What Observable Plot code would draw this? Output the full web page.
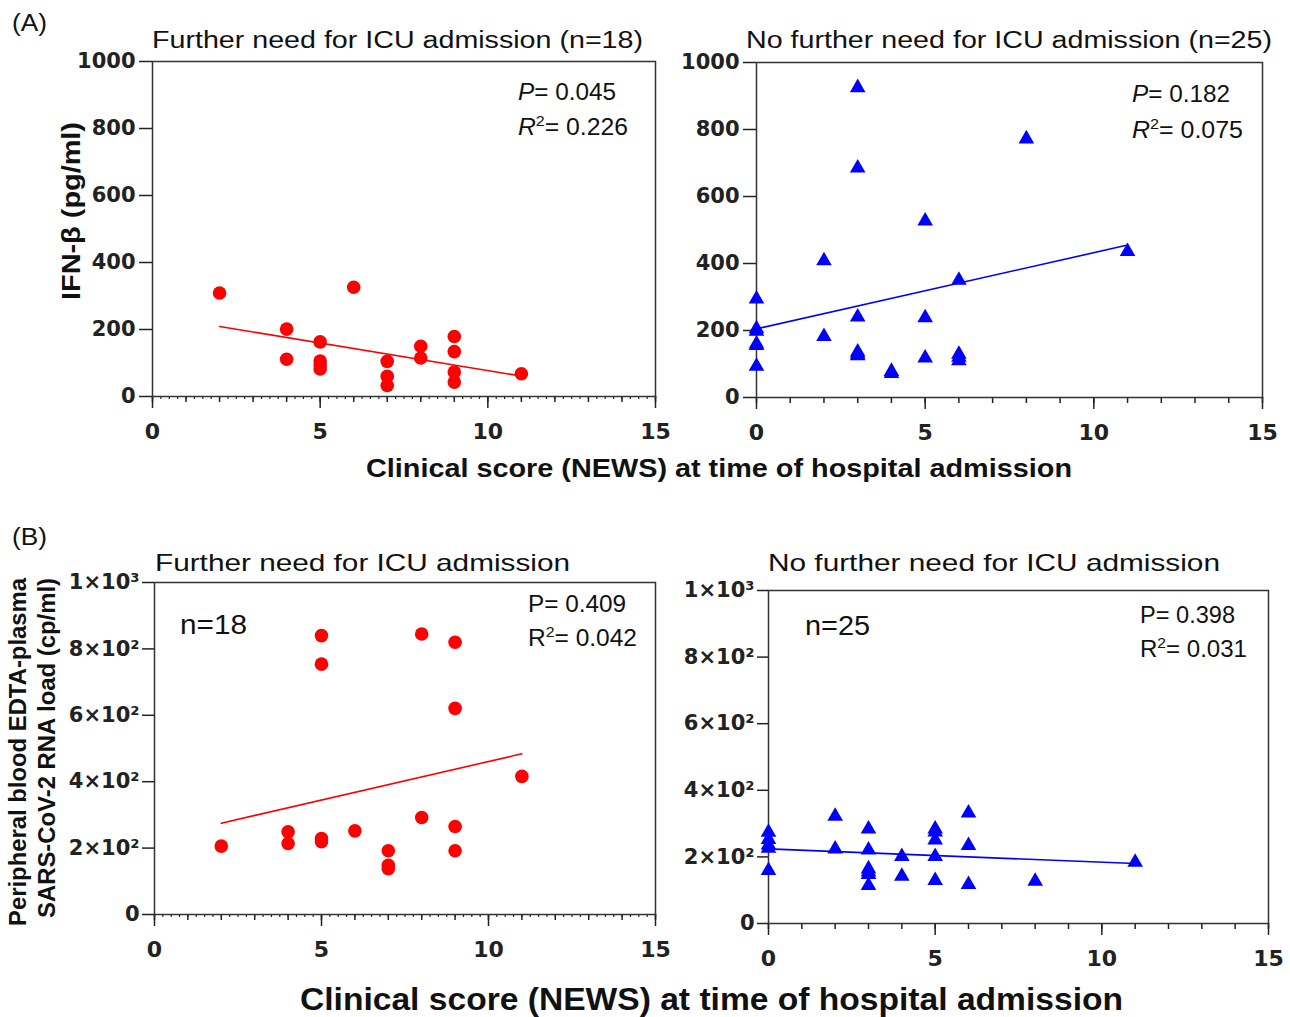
<!DOCTYPE html>
<html><head><meta charset="utf-8">
<script src="https://cdn.jsdelivr.net/npm/d3@7"></script>
<script src="https://cdn.jsdelivr.net/npm/@observablehq/plot@0.6"></script>
<style>
body{margin:0;background:#fff;}
#root{position:relative;width:1290px;height:1017px;overflow:hidden;background:#fff;}
</style></head><body><div id="root"></div>
<script>
// ---- tick labels ----
const newsTicks = [0, 5, 10, 15];
const yTicks = [0, 200, 400, 600, 800, 1000];
const yTickLabelsA = ["0", "200", "400", "600", "800", "1000"];
const yTickLabelsB = ["0", "2×10²", "4×10²", "6×10²", "8×10²", "1×10³"];

// ---- (A) IFN-beta, ICU (n=18) ----
const ifnIcuX = [2, 4, 4, 5, 5, 5, 5, 6, 7, 7, 7, 8, 8, 9, 9, 9, 9, 11];
const ifnIcuY = [309, 201, 111, 163, 106, 94, 82, 326, 105, 60, 33, 150, 115, 179, 134, 73, 43, 68];
const ifnIcuFitX = [2, 11];
const ifnIcuFitY = [209, 61];

// ---- (A) IFN-beta, no ICU (n=25) ----
const ifnNoX = [0, 0, 0, 0, 0, 0, 2, 2, 3, 3, 3, 3, 3, 3, 4, 4, 5, 5, 5, 6, 6, 6, 6, 8, 11];
const ifnNoY = [294, 205, 198, 160, 155, 93, 408, 182, 925, 685, 240, 136, 130, 125, 78, 72, 527, 238, 118, 350, 129, 120, 110, 772, 436];
const ifnNoFitX = [0, 11];
const ifnNoFitY = [205, 455];

// ---- (B) RNA load, ICU (n=18) ----
const rnaIcuX = [2, 4, 4, 5, 5, 5, 5, 6, 7, 7, 7, 8, 8, 9, 9, 9, 9, 11];
const rnaIcuY = [206, 249, 214, 840, 754, 229, 219, 252, 192, 148, 138, 845, 292, 820, 621, 265, 192, 416];
const rnaIcuFitX = [2, 11];
const rnaIcuFitY = [275, 484];

// ---- (B) RNA load, no ICU (n=25) ----
const rnaNoX = [0, 0, 0, 0, 0, 2, 2, 3, 3, 3, 3, 3, 3, 4, 4, 5, 5, 5, 5, 5, 6, 6, 6, 8, 11];
const rnaNoY = [274, 252, 236, 226, 159, 322, 224, 284, 221, 164, 155, 147, 114, 201, 142, 284, 275, 251, 201, 129, 332, 234, 117, 127, 184];
const rnaNoFitX = [0, 11];
const rnaNoFitY = [224, 180];

const RED = "#ff0000", BLUE = "#0000ff";
const root = document.getElementById("root");

function panel(o) {
  const data = o.xs.map((x, i) => ({x, y: o.ys[i]}));
  const fit = o.fitX.map((x, i) => ({x, y: o.fitY[i]}));
  const mL = 160, mR = 20, mT = 14, mB = 70;
  const labels = new Map(yTicks.map((t, i) => [t, o.yLabels[i]]));
  const chart = Plot.plot({
    width: o.w + mL + mR, height: o.h + mT + mB,
    marginLeft: mL, marginRight: mR, marginTop: mT, marginBottom: mB,
    x: {domain: [0, 15], axis: null, label: null},
    y: {domain: [0, 1000], axis: null, label: null},
    style: {fontFamily: "DejaVu Sans", fontSize: "21px", fontWeight: "bold", color: "#222", background: "transparent", overflow: "visible"},
    marks: [
      Plot.axisY({ticks: yTicks, tickSize: o.yTickSize, tickPadding: o.yPad, tickFormat: d => labels.get(d), label: null, strokeWidth: 1.5, fontSize: 21}),
      Plot.axisX({ticks: newsTicks, tickSize: 12, tickPadding: 15, tickFormat: d => String(d), label: null, strokeWidth: 1.5, fontSize: 22}),
      Plot.axisX({ticks: d3.range(0, 16), tickSize: 6, tickFormat: () => "", label: null, strokeWidth: 1.5}),
      o.minor ? Plot.axisX({ticks: d3.range(0, 15.01, 0.25), tickSize: 3, tickFormat: () => "", label: null, strokeWidth: 1.2}) : null,
      Plot.frame({stroke: "#333", strokeWidth: 1.5}),
      Plot.line(fit, {x: "x", y: "y", stroke: o.color, strokeWidth: 1.6}),
      Plot.dot(data, {x: "x", y: "y", fill: o.color, stroke: "none", r: o.r, symbol: o.symbol})
    ]
  });
  chart.style.position = "absolute";
  chart.style.left = (o.left - mL) + "px";
  chart.style.top = (o.top - mT) + "px";
  root.append(chart);
}

panel({xs: ifnIcuX, ys: ifnIcuY, fitX: ifnIcuFitX, fitY: ifnIcuFitY, color: RED, symbol: "circle", r: 6.8,
  yLabels: yTickLabelsA, yTickSize: 13, yPad: 4, minor: true, left: 152, top: 61, w: 503, h: 335});
panel({xs: ifnNoX, ys: ifnNoY, fitX: ifnNoFitX, fitY: ifnNoFitY, color: BLUE, symbol: "triangle", r: 5.8,
  yLabels: yTickLabelsA, yTickSize: 13, yPad: 4, minor: false, left: 756, top: 62, w: 506, h: 335});
panel({xs: rnaIcuX, ys: rnaIcuY, fitX: rnaIcuFitX, fitY: rnaIcuFitY, color: RED, symbol: "circle", r: 6.8,
  yLabels: yTickLabelsB, yTickSize: 12, yPad: 3, minor: true, left: 154, top: 582, w: 501, h: 332});
panel({xs: rnaNoX, ys: rnaNoY, fitX: rnaNoFitX, fitY: rnaNoFitY, color: BLUE, symbol: "triangle", r: 5.8,
  yLabels: yTickLabelsB, yTickSize: 11, yPad: 3, minor: false, left: 768, top: 590, w: 500, h: 333});

// ---- overlay texts ----
const svg = d3.select(root).append("svg")
  .attr("width", 1290).attr("height", 1017)
  .style("position", "absolute").style("left", "0px").style("top", "0px")
  .attr("font-family", "Liberation Sans, Arial, sans-serif").attr("fill", "#111");

// parts: [text, italic, superscript]
function txt(parts, x, y, size, len, opts = {}) {
  const t = svg.append("text").attr("x", x).attr("y", y).attr("font-size", size)
    .attr("text-anchor", opts.anchor || "start")
    .attr("font-weight", opts.bold ? "bold" : "normal");
  if (len) t.attr("textLength", len).attr("lengthAdjust", "spacingAndGlyphs");
  if (opts.rotate) t.attr("transform", `rotate(-90 ${x} ${y})`);
  let shifted = false;
  (Array.isArray(parts) ? parts : [[parts]]).forEach(([s, italic, sup]) => {
    const sp = t.append("tspan").text(s);
    if (italic) sp.attr("font-style", "italic");
    if (sup) { sp.attr("font-size", size * 0.65).attr("dy", -size * 0.38); shifted = true; }
    else if (shifted) { sp.attr("dy", size * 0.38); shifted = false; }
  });
  return t;
}

txt("(A)", 12, 31, 23, 35);
txt("(B)", 12, 545, 23, 35);
txt("Further need for ICU admission (n=18)", 152, 48, 23, 491);
txt("No further need for ICU admission (n=25)", 746, 48, 23, 526);
txt("Further need for ICU admission", 155, 571, 24, 415);
txt("No further need for ICU admission", 768, 571, 24, 452);

txt([["P", true], ["= 0.045"]], 518, 100, 23, 98);
txt([["R", true], ["2", false, true], ["= 0.226"]], 518, 135, 23, 110);
txt([["P", true], ["= 0.182"]], 1132, 102, 23, 98);
txt([["R", true], ["2", false, true], ["= 0.075"]], 1132, 138, 23, 111);
txt("P= 0.409", 528, 612, 23, 98);
txt([["R"], ["2", false, true], ["= 0.042"]], 528, 646, 23, 109);
txt("P= 0.398", 1140, 623, 23, 95);
txt([["R"], ["2", false, true], ["= 0.031"]], 1140, 657, 23, 107);
txt("n=18", 180, 634, 28, 67);
txt("n=25", 805, 635, 28, 65);

txt("IFN-β (pg/ml)", 80, 211, 25, 178, {anchor: "middle", bold: true, rotate: true});
txt("Peripheral blood EDTA-plasma", 26, 752, 24, 348, {anchor: "middle", bold: true, rotate: true});
txt("SARS-CoV-2 RNA load (cp/ml)", 55, 748, 24, 340, {anchor: "middle", bold: true, rotate: true});
txt("Clinical score (NEWS) at time of hospital admission", 366, 477, 26, 706, {bold: true});
txt("Clinical score (NEWS) at time of hospital admission", 300, 1010, 32, 823, {bold: true});
</script></body></html>
